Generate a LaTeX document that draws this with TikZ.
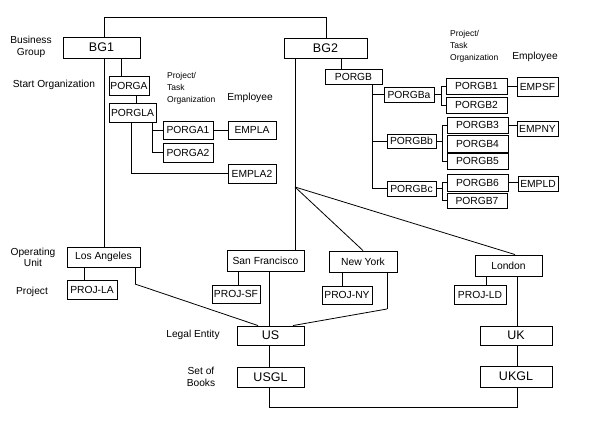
\documentclass[tikz,border=0pt]{standalone}
\usepackage{fontspec}
\setmainfont{Liberation Sans}
\usetikzlibrary{backgrounds}
\pgfdeclarelayer{bottom}
\pgfsetlayers{bottom,background,main}
\tikzset{
  box/.style={draw, fill=white, line width=0.9pt, inner sep=0pt, font=\fontsize{10.3}{12}\selectfont},
  bigbox/.style={font=\fontsize{12.5}{14}\selectfont},
  lbl/.style={inner sep=0pt, align=center, font=\fontsize{10.2}{11.5}\selectfont},
  small/.style={inner sep=0pt, align=left, font=\fontsize{8.5}{11.8}\selectfont, anchor=west},
  conn/.style={line width=1pt},
  thin/.style={line width=0.8pt}
}
\newcommand\bx[7][]{\node[box,#1,minimum width={(#5-#3)*1pt},minimum height={(#6-#4)*1pt}] (#2) at ({(#3+#5)/2},{(#4+#6)/2}) {#7};}
\begin{document}
\begin{tikzpicture}[x=1pt,y=-1pt]
\begin{pgfonlayer}{bottom}
\fill[white] (0,0) rectangle (590,423);
\end{pgfonlayer}
\useasboundingbox (0,0) rectangle (590,423);
% boxes
\bx[bigbox]{BG1}{63}{37}{140}{58}{BG1}
\bx[bigbox]{BG2}{284}{38}{367}{58}{BG2}
\bx{PORGA}{109}{76}{149}{95}{PORGA}
\bx{PORGLA}{109}{103}{156}{122}{PORGLA}
\bx{PORGA1}{163}{121}{213}{139}{PORGA1}
\bx{PORGA2}{163}{143}{213}{162}{PORGA2}
\bx{EMPLA}{228}{121}{276}{139}{EMPLA}
\bx{EMPLA2}{228}{164}{276}{183}{EMPLA2}
\bx{PORGB}{325}{69}{382}{84}{PORGB}
\bx{PORGBa}{384}{87}{434}{102}{PORGBa}
\bx{PORGBb}{387}{134}{436}{148}{PORGBb}
\bx{PORGBc}{387}{181}{436}{196}{PORGBc}
\bx{PORGB1}{446}{78}{507}{94}{PORGB1}
\bx{PORGB2}{446}{97}{507}{113}{PORGB2}
\bx{PORGB3}{447}{117}{508}{133}{PORGB3}
\bx{PORGB4}{447}{135}{508}{152}{PORGB4}
\bx{PORGB5}{447}{153}{508}{169}{PORGB5}
\bx{PORGB6}{447}{174}{508}{191}{PORGB6}
\bx{PORGB7}{447}{193}{507}{208}{PORGB7}
\bx{EMPSF}{517}{77}{558}{96}{EMPSF}
\bx{EMPNY}{517}{121}{558}{136}{EMPNY}
\bx{EMPLD}{518}{176}{558}{191}{EMPLD}
\bx{LA}{67}{247}{140}{267}{Los Angeles}
\bx{PROJLA}{67}{280}{117}{299}{PROJ-LA}
\bx{SF}{227}{250}{304}{271}{San Francisco}
\bx{PROJSF}{212}{285}{260}{303}{PROJ-SF}
\bx{NY}{329}{251}{397}{272}{New York}
\bx{PROJNY}{322}{286}{372}{304}{PROJ-NY}
\bx{LD}{475}{255}{542}{276}{London}
\bx{PROJLD}{454}{285}{506}{304}{PROJ-LD}
\bx[bigbox]{US}{237}{326}{304}{345}{US}
\bx[bigbox]{USGL}{237}{367}{304}{387}{USGL}
\bx[bigbox]{UK}{480}{326}{552}{345}{UK}
\bx[bigbox]{UKGL}{480}{366}{552}{387}{UKGL}
% labels
\node[lbl] (lBG) at (31,47) {Business\\Group};
\node[lbl] (lSO) at (54,85) {Start Organization};
\node[small] (lPT1) at (167,88.5) {Project/\\Task\\Organization};
\node[lbl] (lEm1) at (250,98) {Employee};
\node[small] (lPT2) at (450,46.5) {Project/\\Task\\Organization};
\node[lbl] (lEm2) at (535,57) {Employee};
\node[lbl] (lOU) at (33,257.5) {Operating\\Unit};
\node[lbl] (lPr) at (32,292) {Project};
\node[lbl] (lLE) at (193,335) {Legal Entity};
\node[lbl] (lSB) at (201,377) {Set of\\Books};
% helper coordinates
\foreach \xx in {84,104,121,131,135,136,152,238,258,269,293,295,326,341,342,372,387,441,442,486,515,517}
  \coordinate (x\xx) at (\xx,0);
\coordinate (top) at (0,17);
\coordinate (fan) at (295,187);
\coordinate (laK) at (135,284);
\coordinate (nyK) at (387,309);
\coordinate (botL) at (269,407);
\coordinate (botR) at (517,407);
% connectors
\begin{scope}[on background layer, conn]
\draw (x104 |- LA.north) -- (x104 |- top) -- (x326 |- top) -- (x326 |- BG2.north);
\draw (x121 |- BG1.south) -- (x121 |- PORGA.north);
\draw (x136 |- PORGA.south) -- (x136 |- PORGLA.north);
\draw (x152 |- PORGLA.south) -- (x152 |- PORGA2.west) -- (PORGA2.west);
\draw (x152 |- PORGA1.west) -- (PORGA1.west);
\draw (PORGA1.east) -- (EMPLA.west);
\draw (x131 |- PORGLA.south) -- (x131 |- EMPLA2.west) -- (EMPLA2.west);
\draw (x341 |- BG2.south) -- (x341 |- PORGB.north);
\draw (x295 |- BG2.south) -- (x295 |- SF.north);
\draw (x372 |- PORGB.south) -- (x372 |- PORGBc.west) -- (PORGBc.west);
\draw (x372 |- PORGBa.west) -- (PORGBa.west);
\draw (x372 |- PORGBb.west) -- (PORGBb.west);
\draw (PORGBa.east) -- (x441 |- PORGBa.east);
\draw (PORGB1.west) -- (x441 |- PORGB1.west) -- (x441 |- PORGB2.west) -- (PORGB2.west);
\draw (PORGBb.east) -- (x442 |- PORGBb.east);
\draw (PORGB3.west) -- (x442 |- PORGB3.west) -- (x442 |- PORGB5.west) -- (PORGB5.west);
\draw (PORGBc.east) -- (x442 |- PORGBc.east);
\draw (PORGB6.west) -- (x442 |- PORGB6.west) -- (x442 |- PORGB7.west) -- (PORGB7.west);
\draw (PORGB1.east) -- (EMPSF.west |- PORGB1.east);
\draw (PORGB3.east) -- (EMPNY.west |- PORGB3.east);
\draw (PORGB6.east) -- (EMPLD.west |- PORGB6.east);
\draw (x84 |- LA.south) -- (x84 |- PROJLA.north);
\draw (x135 |- LA.south) -- (laK);
\draw[thin] (laK) -- (x258 |- US.north);
\draw (x238 |- SF.south) -- (x238 |- PROJSF.north);
\draw (x269 |- SF.south) -- (x269 |- US.north);
\draw (x342 |- NY.south) -- (x342 |- PROJNY.north);
\draw (x387 |- NY.south) -- (nyK);
\draw[thin] (nyK) -- (x293 |- US.north);
\draw (x486 |- LD.south) -- (x486 |- PROJLD.north);
\draw (x517 |- LD.south) -- (x517 |- UK.north);
\draw (x269 |- US.south) -- (x269 |- USGL.north);
\draw (x517 |- UK.south) -- (x517 |- UKGL.north);
\draw (x269 |- USGL.south) -- (botL) -- (botR) -- (x517 |- UKGL.south);
\draw[thin] (fan) -- (NY.north);
\draw[thin] (fan) -- (x515 |- LD.north);
\end{scope}
\end{tikzpicture}
\end{document}
